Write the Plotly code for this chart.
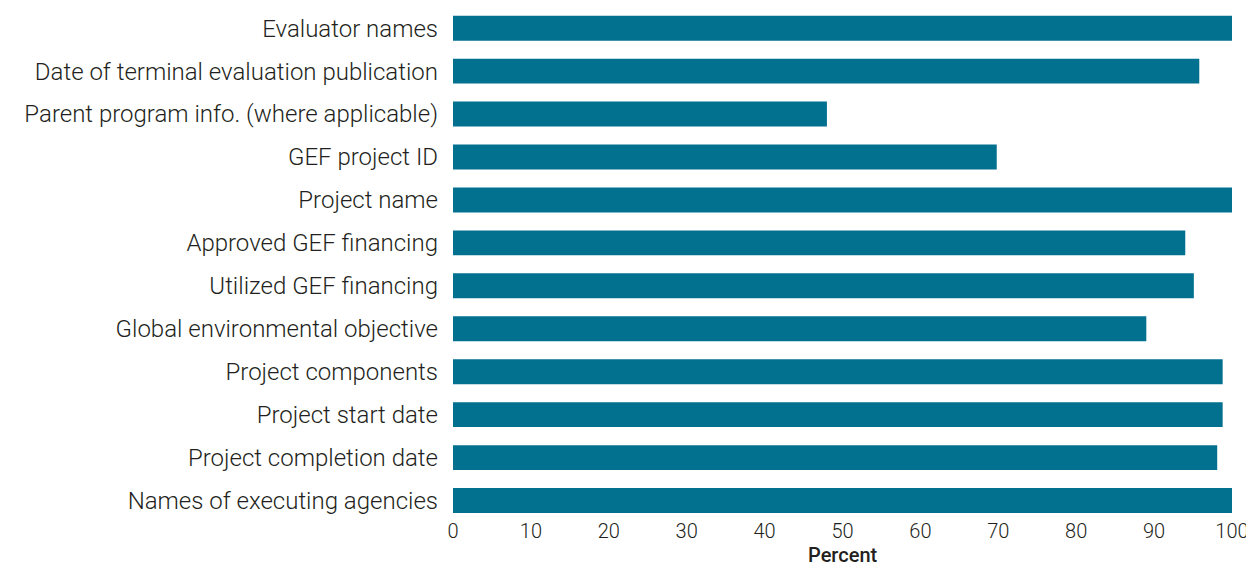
import plotly.graph_objects as go

# categories, top to bottom as in the chart
items = [
    "Evaluator names",
    "Date of terminal evaluation publication",
    "Parent program info. (where applicable)",
    "GEF project ID",
    "Project name",
    "Approved GEF financing",
    "Utilized GEF financing",
    "Global environmental objective",
    "Project components",
    "Project start date",
    "Project completion date",
    "Names of executing agencies",
]
percent = [100, 95.8, 48.0, 69.8, 100, 94.0, 95.1, 89.0, 98.8, 98.8, 98.1, 100]
x_ticks = list(range(0, 101, 10))

bar_color = "#02708f"
text_color = "#231f20"

fig = go.Figure(
    go.Bar(
        x=percent,
        y=items,
        orientation="h",
        marker=dict(color=bar_color, line_width=0),
    )
)

# page body adds an 8px offset, so the figure is sized to fit inside the window
fig.update_layout(
    width=1246,
    height=561,
    margin=dict(l=445, r=22, t=0, b=47),
    plot_bgcolor="white",
    paper_bgcolor="white",
    font=dict(family="Roboto", size=23, color=text_color),
    bargap=0.42,
    showlegend=False,
)

fig.update_xaxes(
    range=[0, 100],
    tickvals=x_ticks,
    showgrid=False,
    zeroline=False,
    showline=False,
    ticks="",
    ticklabelstandoff=-5,
    tickfont=dict(size=20, family="Roboto", weight=300),
    automargin=False,
)
fig.update_yaxes(
    range=[11.5, -0.47],
    showgrid=False,
    zeroline=False,
    showline=False,
    ticks="",
    ticklabelstandoff=14,
    tickfont=dict(size=24, family="Roboto", weight=300),
    automargin=False,
)

# axis title as an annotation so it sits clear of the tick labels
fig.add_annotation(
    text="Percent",
    xref="paper", yref="paper",
    x=0.5, y=-0.0895,
    xanchor="center", yanchor="bottom",
    showarrow=False,
    borderpad=0,
    font=dict(size=20, family="Roboto", weight=500, color=text_color),
)

fig.write_html("out.html")
